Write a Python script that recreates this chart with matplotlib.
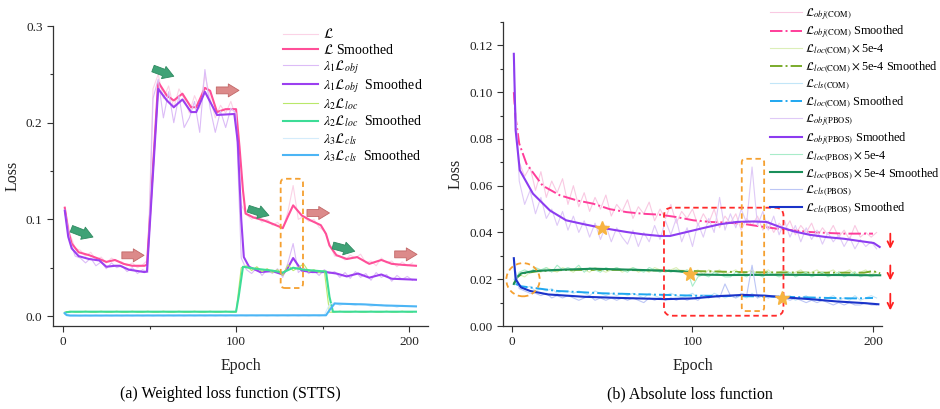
import numpy as np
import matplotlib
matplotlib.use("Agg")
import matplotlib.pyplot as plt
from matplotlib.patches import FancyBboxPatch, Ellipse
from matplotlib.ticker import MultipleLocator, FormatStrFormatter

plt.rcParams['font.family'] = ['Liberation Serif', 'DejaVu Serif']
plt.rcParams['mathtext.fontset'] = 'stix'

# raw curves are read every 3rd epoch
raw_epochs = np.arange(1, 203, 3)

# ---------------- (a) weighted loss (STTS) ----------------
a_total_raw = [0.113, 0.085, 0.070, 0.068, 0.062, 0.066, 0.058, 0.061, 0.055, 0.060,
               0.057, 0.056, 0.052, 0.055, 0.050, 0.053, 0.058, 0.235, 0.250, 0.225,
               0.238, 0.215, 0.235, 0.225, 0.210, 0.228, 0.215, 0.250, 0.225, 0.205,
               0.218, 0.210, 0.222, 0.205, 0.115, 0.105, 0.100, 0.104, 0.097, 0.100,
               0.094, 0.097, 0.090, 0.108, 0.135, 0.100, 0.103, 0.098, 0.100, 0.092,
               0.088, 0.075, 0.062, 0.062, 0.058, 0.063, 0.060, 0.064, 0.055, 0.057,
               0.052, 0.060, 0.055, 0.057, 0.051, 0.056, 0.052, 0.055]
a_obj_raw = [0.110, 0.078, 0.062, 0.060, 0.055, 0.060, 0.052, 0.056, 0.049, 0.055,
             0.050, 0.052, 0.046, 0.050, 0.044, 0.048, 0.045, 0.225, 0.245, 0.205,
             0.232, 0.200, 0.228, 0.195, 0.205, 0.222, 0.190, 0.255, 0.215, 0.190,
             0.212, 0.195, 0.215, 0.210, 0.060, 0.048, 0.044, 0.050, 0.042, 0.048,
             0.044, 0.049, 0.040, 0.055, 0.075, 0.045, 0.050, 0.044, 0.047, 0.042,
             0.048, 0.044, 0.046, 0.040, 0.045, 0.039, 0.046, 0.040, 0.044, 0.037,
             0.045, 0.040, 0.043, 0.036, 0.042, 0.038, 0.041, 0.037]
a_loc_raw = [0.004, 0.005, 0.004, 0.004, 0.005, 0.004, 0.004, 0.005, 0.004, 0.004,
             0.005, 0.004, 0.004, 0.005, 0.004, 0.004, 0.005, 0.004, 0.004, 0.005,
             0.004, 0.004, 0.005, 0.004, 0.004, 0.005, 0.004, 0.004, 0.005, 0.004,
             0.004, 0.005, 0.004, 0.004, 0.050, 0.052, 0.047, 0.051, 0.046, 0.049,
             0.045, 0.048, 0.042, 0.053, 0.047, 0.050, 0.054, 0.046, 0.048, 0.045,
             0.047, 0.004, 0.004, 0.005, 0.004, 0.004, 0.005, 0.004, 0.004, 0.005,
             0.004, 0.004, 0.005, 0.004, 0.004, 0.005, 0.004, 0.004]
a_cls_raw = [0.003, 0.001, 0.001, 0.000, 0.001, 0.000, 0.001, 0.000, 0.001, 0.000,
             0.001, 0.000, 0.001, 0.000, 0.001, 0.000, 0.001, 0.000, 0.001, 0.000,
             0.001, 0.000, 0.001, 0.000, 0.001, 0.000, 0.001, 0.000, 0.001, 0.000,
             0.001, 0.000, 0.001, 0.000, 0.001, 0.000, 0.001, 0.000, 0.001, 0.000,
             0.001, 0.000, 0.001, 0.000, 0.001, 0.000, 0.001, 0.000, 0.001, 0.000,
             0.001, 0.012, 0.014, 0.011, 0.013, 0.012, 0.011, 0.013, 0.012, 0.010,
             0.011, 0.012, 0.010, 0.011, 0.009, 0.011, 0.010, 0.010]

a_total_sm_x = [1, 3, 5, 9, 15, 21, 25, 30, 35, 40, 47, 48.5, 55, 60, 64, 69, 74, 77, 82, 85,
                89, 94, 100, 102, 104, 105.5, 110, 116, 121, 127, 130, 133, 138, 143, 149, 152,
                154, 158, 164, 170, 177, 184, 190, 196, 204]
a_total_sm_y = [0.112, 0.088, 0.075, 0.066, 0.063, 0.059, 0.056, 0.058, 0.054, 0.052,
                0.052, 0.053, 0.242, 0.228, 0.223, 0.230, 0.216, 0.216, 0.236, 0.233,
                0.211, 0.214, 0.214, 0.175, 0.130, 0.106, 0.102, 0.099, 0.0955, 0.091,
                0.103, 0.1145, 0.104, 0.099, 0.094, 0.085, 0.073, 0.063, 0.059, 0.061,
                0.054, 0.058, 0.054, 0.053, 0.052]
a_obj_sm_x = [1, 3, 5, 9, 15, 21, 25, 30, 33, 38, 47, 48.5, 55, 60, 64, 69, 74, 77, 82, 89,
              99, 101, 103, 104.5, 107.5, 114, 121, 127, 130, 133, 138, 144, 152, 158, 164,
              170.5, 177, 184, 190, 204]
a_obj_sm_y = [0.109, 0.082, 0.070, 0.062, 0.059, 0.0575, 0.051, 0.052, 0.052, 0.048,
              0.0455, 0.046, 0.235, 0.223, 0.216, 0.224, 0.211, 0.211, 0.232, 0.208,
              0.209, 0.180, 0.100, 0.061, 0.051, 0.0455, 0.0465, 0.043, 0.050, 0.060,
              0.047, 0.0455, 0.0455, 0.044, 0.041, 0.044, 0.0397, 0.043, 0.0386, 0.0376]
a_loc_sm_x = [1, 2, 5, 100, 101.5, 104, 111, 121, 127, 133, 139, 145, 152, 154, 156, 204]
a_loc_sm_y = [0.003, 0.004, 0.0045, 0.0045, 0.020, 0.051, 0.049, 0.047, 0.045, 0.050,
              0.048, 0.047, 0.046, 0.020, 0.0045, 0.0045]
a_cls_sm_x = [1, 2, 4, 152, 154, 157, 165, 175, 185, 195, 204]
a_cls_sm_y = [0.003, 0.001, 0.0005, 0.0008, 0.006, 0.013, 0.0125, 0.012, 0.011, 0.0105, 0.010]

# ---------------- (b) absolute loss ----------------
b_objc_raw = [0.098, 0.070, 0.064, 0.068, 0.058, 0.066, 0.055, 0.062, 0.057, 0.063,
              0.052, 0.060, 0.051, 0.057, 0.049, 0.055, 0.050, 0.056, 0.047, 0.052,
              0.049, 0.054, 0.046, 0.051, 0.048, 0.053, 0.045, 0.050, 0.046, 0.052,
              0.044, 0.049, 0.046, 0.050, 0.043, 0.048, 0.044, 0.050, 0.042, 0.047,
              0.044, 0.048, 0.041, 0.046, 0.043, 0.047, 0.041, 0.045, 0.040, 0.044,
              0.041, 0.045, 0.039, 0.043, 0.040, 0.044, 0.038, 0.042, 0.039, 0.043,
              0.038, 0.041, 0.037, 0.043, 0.038, 0.040, 0.038, 0.040]
b_locc_raw = [0.018, 0.022, 0.021, 0.023, 0.024, 0.023, 0.025, 0.024, 0.023, 0.025,
              0.024, 0.023, 0.025, 0.024, 0.023, 0.025, 0.024, 0.023, 0.024, 0.025,
              0.023, 0.024, 0.025, 0.023, 0.024, 0.023, 0.025, 0.024, 0.023, 0.024,
              0.025, 0.023, 0.024, 0.023, 0.024, 0.022, 0.024, 0.023, 0.024, 0.022,
              0.023, 0.024, 0.022, 0.023, 0.024, 0.022, 0.023, 0.024, 0.022, 0.023,
              0.024, 0.022, 0.023, 0.024, 0.022, 0.023, 0.024, 0.022, 0.023, 0.024,
              0.022, 0.023, 0.024, 0.022, 0.023, 0.024, 0.022, 0.023]
b_clsc_raw = [0.020, 0.017, 0.016, 0.017, 0.015, 0.016, 0.015, 0.016, 0.014, 0.015,
              0.015, 0.014, 0.015, 0.014, 0.013, 0.015, 0.014, 0.013, 0.014, 0.013,
              0.014, 0.013, 0.014, 0.013, 0.012, 0.014, 0.013, 0.012, 0.013, 0.014,
              0.013, 0.012, 0.013, 0.014, 0.012, 0.013, 0.012, 0.014, 0.013, 0.012,
              0.013, 0.012, 0.013, 0.012, 0.014, 0.012, 0.013, 0.012, 0.013, 0.012,
              0.012, 0.013, 0.011, 0.012, 0.013, 0.011, 0.012, 0.011, 0.012, 0.013,
              0.011, 0.012, 0.011, 0.013, 0.011, 0.012, 0.013, 0.012]
b_objp_raw = [0.110, 0.062, 0.052, 0.058, 0.048, 0.055, 0.046, 0.050, 0.043, 0.049,
              0.041, 0.047, 0.040, 0.045, 0.038, 0.044, 0.037, 0.043, 0.036, 0.042,
              0.038, 0.035, 0.041, 0.034, 0.040, 0.036, 0.043, 0.037, 0.045, 0.039,
              0.046, 0.036, 0.042, 0.034, 0.044, 0.038, 0.046, 0.040, 0.055, 0.041,
              0.048, 0.042, 0.050, 0.044, 0.068, 0.043, 0.049, 0.041, 0.047, 0.039,
              0.045, 0.038, 0.043, 0.036, 0.042, 0.037, 0.041, 0.035, 0.040, 0.036,
              0.039, 0.034, 0.038, 0.033, 0.037, 0.034, 0.036, 0.033]
b_locp_raw = [0.018, 0.023, 0.024, 0.023, 0.025, 0.024, 0.025, 0.023, 0.026, 0.024,
              0.025, 0.024, 0.026, 0.023, 0.025, 0.024, 0.023, 0.025, 0.024, 0.025,
              0.024, 0.023, 0.025, 0.024, 0.023, 0.025, 0.024, 0.023, 0.024, 0.023,
              0.024, 0.023, 0.024, 0.017, 0.021, 0.022, 0.021, 0.023, 0.022, 0.021,
              0.021, 0.023, 0.022, 0.021, 0.023, 0.022, 0.021, 0.023, 0.022, 0.021,
              0.022, 0.023, 0.021, 0.022, 0.023, 0.021, 0.022, 0.023, 0.021, 0.022,
              0.023, 0.021, 0.022, 0.023, 0.021, 0.022, 0.021, 0.022]
b_clsp_raw = [0.027, 0.016, 0.015, 0.014, 0.014, 0.013, 0.014, 0.012, 0.013, 0.012,
              0.013, 0.012, 0.011, 0.012, 0.013, 0.011, 0.012, 0.011, 0.012, 0.011,
              0.012, 0.011, 0.012, 0.011, 0.010, 0.012, 0.011, 0.012, 0.011, 0.012,
              0.011, 0.012, 0.011, 0.012, 0.011, 0.013, 0.012, 0.013, 0.012, 0.018,
              0.013, 0.012, 0.014, 0.013, 0.026, 0.012, 0.013, 0.012, 0.013, 0.012,
              0.012, 0.011, 0.012, 0.011, 0.010, 0.011, 0.010, 0.011, 0.010, 0.009,
              0.010, 0.009, 0.010, 0.009, 0.009, 0.010, 0.009, 0.009]

b_objc_sm_x = [1, 2, 4, 8, 17, 26.5, 36, 45, 54, 63.5, 72.7, 82, 91, 100.5, 110, 119, 128,
               137.5, 147, 156, 165, 174.5, 184, 200]
b_objc_sm_y = [0.100, 0.089, 0.078, 0.0694, 0.060, 0.0559, 0.0537, 0.0523, 0.050, 0.0487,
               0.048, 0.0476, 0.0466, 0.0452, 0.0445, 0.0442, 0.0437, 0.0426, 0.0416, 0.0409,
               0.0402, 0.0398, 0.0395, 0.0395]
b_objp_sm_x = [1, 2, 4.3, 11.6, 21, 30, 40, 49.6, 63.5, 72.7, 82, 87.5, 96.8, 106, 115,
               124.5, 133.8, 141, 148.6, 156, 165, 174.5, 184, 193, 200.4, 203.7]
b_objp_sm_y = [0.1164, 0.0837, 0.0666, 0.0566, 0.0494, 0.0452, 0.0435, 0.042, 0.0402, 0.0392,
               0.0385, 0.0385, 0.0402, 0.0419, 0.0435, 0.0445, 0.0447, 0.0445, 0.0423, 0.0405,
               0.039, 0.038, 0.0373, 0.0363, 0.0355, 0.0338]
b_locc_sm_x = [1, 3, 6, 15, 30, 60, 100, 130, 170, 195, 200, 204]
b_locc_sm_y = [0.018, 0.021, 0.0225, 0.0235, 0.024, 0.024, 0.0235, 0.023, 0.0228, 0.0228,
               0.0235, 0.0225]
b_locp_sm_x = [1, 3, 5, 12, 25, 45, 70, 90, 99, 103, 120, 150, 180, 204]
b_locp_sm_y = [0.018, 0.021, 0.0225, 0.0235, 0.024, 0.0245, 0.024, 0.0235, 0.023, 0.022,
               0.0218, 0.0219, 0.0218, 0.0217]
b_clsc_sm_x = [2, 5, 10, 25, 50, 75, 100, 125, 150, 175, 190, 200]
b_clsc_sm_y = [0.018, 0.017, 0.0165, 0.015, 0.014, 0.0135, 0.013, 0.0128, 0.0125, 0.012,
               0.0118, 0.012]
b_clsp_sm_x = [1, 2, 5, 10, 20, 40, 60, 85, 100, 115, 128, 140, 150, 165, 180, 195, 203]
b_clsp_sm_y = [0.029, 0.020, 0.0165, 0.015, 0.0135, 0.0125, 0.012, 0.0115, 0.0118, 0.0128,
               0.0133, 0.013, 0.0123, 0.0115, 0.0105, 0.0098, 0.0093]

star_x = [49.6, 98.6, 149.7]
star_y = [0.0419, 0.0221, 0.012]

fig = plt.figure(figsize=(9.4, 4.09), dpi=100)
axa = fig.add_axes([0.0564, 0.2029, 0.399, 0.7335])
axb = fig.add_axes([0.5351, 0.2029, 0.4032, 0.7433])

def style(ax):
    for s in ['top', 'right']:
        ax.spines[s].set_visible(False)
    for s in ['left', 'bottom']:
        ax.spines[s].set_color('#333333')
        ax.spines[s].set_linewidth(0.9)
    ax.tick_params(which='major', length=4, width=0.8, color='#333333', labelsize=9.5, labelcolor='#222222')
    ax.tick_params(which='minor', length=2.5, width=0.8, color='#333333')
    ax.xaxis.set_major_locator(MultipleLocator(100))
    ax.xaxis.set_minor_locator(MultipleLocator(50))
    ax.set_xlabel('Epoch', fontsize=11.5, labelpad=7, color='#222222')
    ax.set_ylabel('Loss', fontsize=11.5, labelpad=4, color='#222222')

# panel (a)
axa.plot(raw_epochs, a_total_raw, color='#fbd3e6', lw=0.8, label=r'$\mathcal{L}$')
axa.plot(a_total_sm_x, a_total_sm_y, color='#ff4f98', lw=1.5, label=r'$\mathcal{L}$ Smoothed')
axa.plot(raw_epochs, a_obj_raw, color='#dcbcf7', lw=0.8, label=r'$\lambda_1\mathcal{L}_{obj}$')
axa.plot(a_obj_sm_x, a_obj_sm_y, color='#9b3ff0', lw=1.5, label=r'$\lambda_1\mathcal{L}_{obj}$  Smoothed')
axa.plot(raw_epochs, a_loc_raw, color='#b9e86a', lw=0.8, label=r'$\lambda_2\mathcal{L}_{loc}$')
axa.plot(a_loc_sm_x, a_loc_sm_y, color='#3ddc97', lw=1.5, label=r'$\lambda_2\mathcal{L}_{loc}$  Smoothed')
axa.plot(raw_epochs, a_cls_raw, color='#d4ecfb', lw=0.8, label=r'$\lambda_3\mathcal{L}_{cls}$')
axa.plot(a_cls_sm_x, a_cls_sm_y, color='#4cb5f5', lw=1.5, label=r'$\lambda_3\mathcal{L}_{cls}$  Smoothed')
axa.set_xlim(-5.8, 211)
axa.set_ylim(-0.0103, 0.3)
axa.yaxis.set_major_locator(MultipleLocator(0.1))
axa.yaxis.set_minor_locator(MultipleLocator(0.05))
axa.yaxis.set_major_formatter(FormatStrFormatter('%.1f'))
style(axa)
axa.legend(loc='upper left', bbox_to_anchor=(0.301, 0.933), bbox_transform=fig.transFigure,
           frameon=False, fontsize=10, handlelength=2.5, handletextpad=0.4, labelspacing=0.1,
           borderpad=0, borderaxespad=0)

def fat_arrow(ax, p0, p1, fc, ec):
    ax.annotate('', xy=p1, xytext=p0,
                arrowprops=dict(arrowstyle='simple,head_width=0.85,head_length=0.7,tail_width=0.45',
                                fc=fc, ec=ec, lw=0.6, mutation_scale=11, shrinkA=0, shrinkB=0))

for p0, p1 in [((4.8, 0.0903), (17.3, 0.0817)), ((52, 0.256), (64, 0.248)),
               ((107, 0.111), (119, 0.104)), ((156, 0.073), (168.6, 0.067))]:
    fat_arrow(axa, p0, p1, '#3fa276', '#2e8a60')
for p0, p1 in [((34, 0.0628), (46.8, 0.0628)), ((88.6, 0.2334), (101.7, 0.2334)),
               ((141, 0.1066), (154, 0.1066)), ((191.7, 0.0638), (204.6, 0.0638))]:
    fat_arrow(axa, p0, p1, '#dc8a8a', '#c26767')

def round_box(ax, x0, y0, x1, y1, color, aspect, r):
    ax.add_patch(FancyBboxPatch((x0, y0), x1 - x0, y1 - y0,
                                boxstyle='round,pad=0,rounding_size=%g' % r,
                                mutation_aspect=aspect, fill=False, ec=color,
                                ls=(0, (3, 2)), lw=1.3, zorder=5))

round_box(axa, 125.8, 0.029, 138.7, 0.142, '#f5a030', 0.00179, 2.5)

# panel (b)
axb.plot(raw_epochs, b_objc_raw, color='#f9c9e2', lw=0.8, label=r'$\mathcal{L}_{obj(\mathrm{COM})}$')
axb.plot(b_objc_sm_x, b_objc_sm_y, color='#ff3d9a', lw=1.4, ls='-.', label=r'$\mathcal{L}_{obj(\mathrm{COM})}$ Smoothed')
axb.plot(raw_epochs, b_locc_raw, color='#dcefb8', lw=0.8, label=r'$\mathcal{L}_{loc(\mathrm{COM})}\times$5e-4')
axb.plot(b_locc_sm_x, b_locc_sm_y, color='#7aab2b', lw=1.4, ls='-.', label=r'$\mathcal{L}_{loc(\mathrm{COM})}\times$5e-4 Smoothed')
axb.plot(raw_epochs, b_clsc_raw, color='#c2e6f8', lw=0.8, label=r'$\mathcal{L}_{cls(\mathrm{COM})}$')
axb.plot(b_clsc_sm_x, b_clsc_sm_y, color='#1fa7f0', lw=1.4, ls='-.', label=r'$\mathcal{L}_{loc(\mathrm{COM})}$ Smoothed')
axb.plot(raw_epochs, b_objp_raw, color='#dfcaf7', lw=0.8, label=r'$\mathcal{L}_{obj(\mathrm{PBOS})}$')
axb.plot(b_objp_sm_x, b_objp_sm_y, color='#8c3cf0', lw=1.5, label=r'$\mathcal{L}_{obj(\mathrm{PBOS})}$ Smoothed')
axb.plot(raw_epochs, b_locp_raw, color='#a8ecc9', lw=0.8, label=r'$\mathcal{L}_{loc(\mathrm{PBOS})}\times$5e-4')
axb.plot(b_locp_sm_x, b_locp_sm_y, color='#1a8f5a', lw=1.5, label=r'$\mathcal{L}_{loc(\mathrm{PBOS})}\times$5e-4 Smoothed')
axb.plot(raw_epochs, b_clsp_raw, color='#bcc6f5', lw=0.8, label=r'$\mathcal{L}_{cls(\mathrm{PBOS})}$')
axb.plot(b_clsp_sm_x, b_clsp_sm_y, color='#1a33c9', lw=1.5, label=r'$\mathcal{L}_{cls(\mathrm{PBOS})}$ Smoothed')
axb.plot(star_x, star_y, ls='none', marker='*', ms=10, color='#f7b441', zorder=6)
axb.set_xlim(-5, 205)
axb.set_ylim(0, 0.13)
axb.yaxis.set_major_locator(MultipleLocator(0.02))
axb.yaxis.set_minor_locator(MultipleLocator(0.01))
axb.yaxis.set_major_formatter(FormatStrFormatter('%.2f'))
style(axb)
axb.legend(loc='upper left', bbox_to_anchor=(0.819, 0.985), bbox_transform=fig.transFigure,
           frameon=False, fontsize=8.8, handlelength=2.6, handletextpad=0.25, labelspacing=0.2,
           borderpad=0, borderaxespad=0)

round_box(axb, 84.2, 0.0044, 150.4, 0.0506, '#ff2a2a', 0.00077, 4.5)
round_box(axb, 127.3, 0.0064, 139.7, 0.0715, '#f5a030', 0.00077, 2.0)
axb.add_patch(Ellipse((6.1, 0.0198), 18.5, 0.0142, fill=False, ec='#f5a030',
                      ls=(0, (3, 2)), lw=1.3, zorder=5))
for ytop, ybot in [(0.0395, 0.033), (0.0259, 0.0195), (0.0138, 0.0067)]:
    axb.annotate('', xy=(209.6, ybot), xytext=(209.6, ytop), annotation_clip=False,
                 arrowprops=dict(arrowstyle='->', color='#ff2020', lw=1.3, shrinkA=0, shrinkB=0))

fig.text(0.2447, 0.036, '(a) Weighted loss function (STTS)', ha='center', va='center', fontsize=11.5)
fig.text(0.734, 0.036, '(b) Absolute loss function', ha='center', va='center', fontsize=11.5)

fig.savefig('out.png', dpi=100)
